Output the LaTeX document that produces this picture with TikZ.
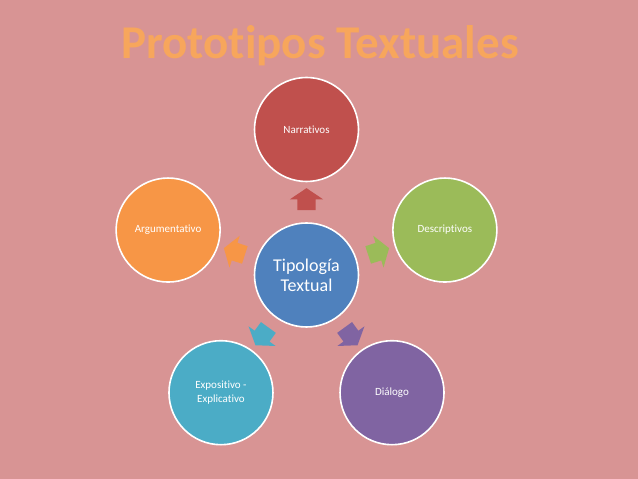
\documentclass[tikz,border=0pt]{standalone}
\usepackage{fontspec}
\setmainfont{Carlito}[Ligatures=NoCommon]
\setsansfont{Carlito}[Ligatures=NoCommon]
\usepackage{tikz}
\usetikzlibrary{positioning, shapes.arrows, calc}

\definecolor{bgpink}{RGB}{216,148,148}
\definecolor{titleorange}{RGB}{247,166,92}
\definecolor{narrred}{RGB}{192,80,77}
\definecolor{arguorange}{RGB}{247,150,70}
\definecolor{descgreen}{RGB}{155,187,89}
\definecolor{tipoblue}{RGB}{79,129,189}
\definecolor{expoteal}{RGB}{75,172,198}
\definecolor{dialpurple}{RGB}{128,100,162}

\begin{document}
\begin{tikzpicture}[x=1pt, y=1pt]

  % Define circle and arrow styles
  \tikzset{
    type circle/.style={
      circle, draw=white, line width=1.6pt, minimum size=104pt,
      inner sep=0pt, align=center, text=white,
      font=\fontsize{11}{14}\selectfont
    },
    flow arrow/.style={
      single arrow, draw=none, inner xsep=0pt, inner ysep=9pt,
      minimum height=22pt,
      single arrow head extend=7.5pt, single arrow tip angle=112
    }
  }

  % Background
  \fill[bgpink] (0,0) rectangle (638,479);

  % Title
  \node[anchor=base, text=titleorange, font=\fontsize{47}{52}\selectfont\bfseries] (title) at (320,420) {Prototipos Textuales};

  % Central circle
  \node[type circle, fill=tipoblue, font=\fontsize{18}{20}\selectfont] (tipo) at (306.5,204) {Tipología\\Textual};

  % Outer circles
  \node[type circle, fill=narrred] (narr) at ($(tipo)+(90:145.5)$) {Narrativos};
  \node[type circle, fill=arguorange] (argu) at ($(tipo)+(162:145.5)$) {Argumentativo};
  \node[type circle, fill=descgreen] (desc) at ($(tipo)+(18:145.5)$) {Descriptivos};
  \node[type circle, fill=expoteal] (expo) at ($(tipo)+(234:145.5)$) {Expositivo -\\Explicativo};
  \node[type circle, fill=dialpurple] (dial) at ($(tipo)+(306:145.5)$) {Diálogo};

  % Arrows between center and outer circles
  \node[flow arrow, fill=narrred, rotate=90] (a1) at ($(tipo)!0.5!(narr)$) {};
  \node[flow arrow, fill=arguorange, rotate=162] (a2) at ($(tipo)!0.5!(argu)$) {};
  \node[flow arrow, fill=descgreen, rotate=18] (a3) at ($(tipo)!0.5!(desc)$) {};
  \node[flow arrow, fill=expoteal, rotate=234] (a4) at ($(tipo)!0.5!(expo)$) {};
  \node[flow arrow, fill=dialpurple, rotate=306] (a5) at ($(tipo)!0.5!(dial)$) {};

\end{tikzpicture}
\end{document}
